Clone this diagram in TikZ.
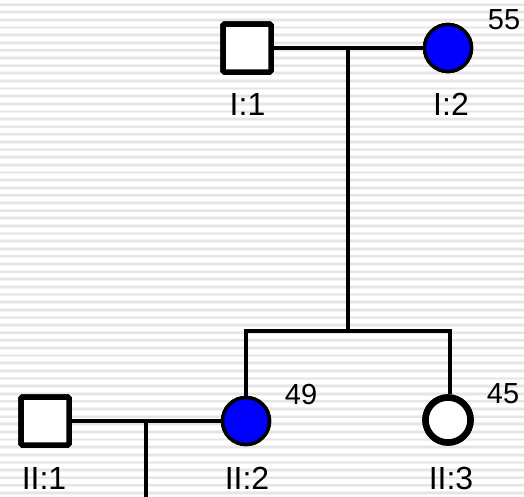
\documentclass[tikz,border=0pt]{standalone}
\usepackage{fontspec}
\setmainfont{Liberation Sans}
\begin{document}
\begin{tikzpicture}[x=1pt,y=-1pt,
  male/.style={draw=black,line width=5.5pt,fill=white,minimum size=48pt,inner sep=0pt,rectangle,rounded corners=1.5pt},
  female/.style={draw=black,line width=3.5pt,fill=white,circle,minimum size=47pt,inner sep=0pt},
  affected/.style={fill=blue},
  thickc/.style={line width=6.5pt,minimum size=45pt},
  link/.style={line width=4.5pt,line cap=rect},
  lab/.style={font=\fontsize{32}{32}\selectfont,inner sep=0pt},
  age/.style={font=\fontsize{29}{29}\selectfont,inner sep=0pt}]
\useasboundingbox (0,0) rectangle (524,496);
\fill[white] (0,0) rectangle (524,496);
\foreach \i in {0,...,64} {
  \fill[black!5] (0,{2.8+7.63*\i}) rectangle (524,{6.4+7.63*\i});
  \fill[black!10] (0,{3.7+7.63*\i}) rectangle (524,{5.5+7.63*\i});
}
% generation I
\node[male] (i1) at (247,48) {};
\node[female,affected] (i2) at (448,48) {};
\coordinate (m1) at (348,48);
\coordinate (s1) at (348,331);
\coordinate (s1l) at (246,331);
\coordinate (s1r) at (450,331);
% generation II
\node[male] (ii1) at (45,421) {};
\node[female,affected] (ii2) at (246,421) {};
\node[female,thickc] (ii3) at (448,420) {};
\coordinate (m2) at (146,421);
\coordinate (d2) at (146,500);
\draw[link] (i1.east) -- (i2.west);
\draw[link] (m1) -- (s1);
\draw[link,line cap=butt] (s1l |- ii2.north) -- (s1l) -- (s1r) -- (s1r |- ii3.north);
\draw[link] (ii1.east) -- (ii2.west);
\draw[link,line cap=butt] (m2) -- (d2);
% redraw nodes over lines
\node[male] at (247,48) {};
\node[female,affected] at (448,48) {};
\node[male] at (45,421) {};
\node[female,affected] at (246,421) {};
\node[female,thickc] at (448,420) {};
% labels
\node[lab] (l1) at (247.5,104) {I:1};
\node[lab] (l2) at (451,104) {I:2};
\node[age] (a2) at (504,20) {55};
\node[lab] (l3) at (44,478) {II:1};
\node[lab] (l4) at (247,478) {II:2};
\node[lab] (l5) at (451,478) {II:3};
\node[age] (a4) at (301,395) {49};
\node[age] (a5) at (503,394) {45};
\end{tikzpicture}
\end{document}
